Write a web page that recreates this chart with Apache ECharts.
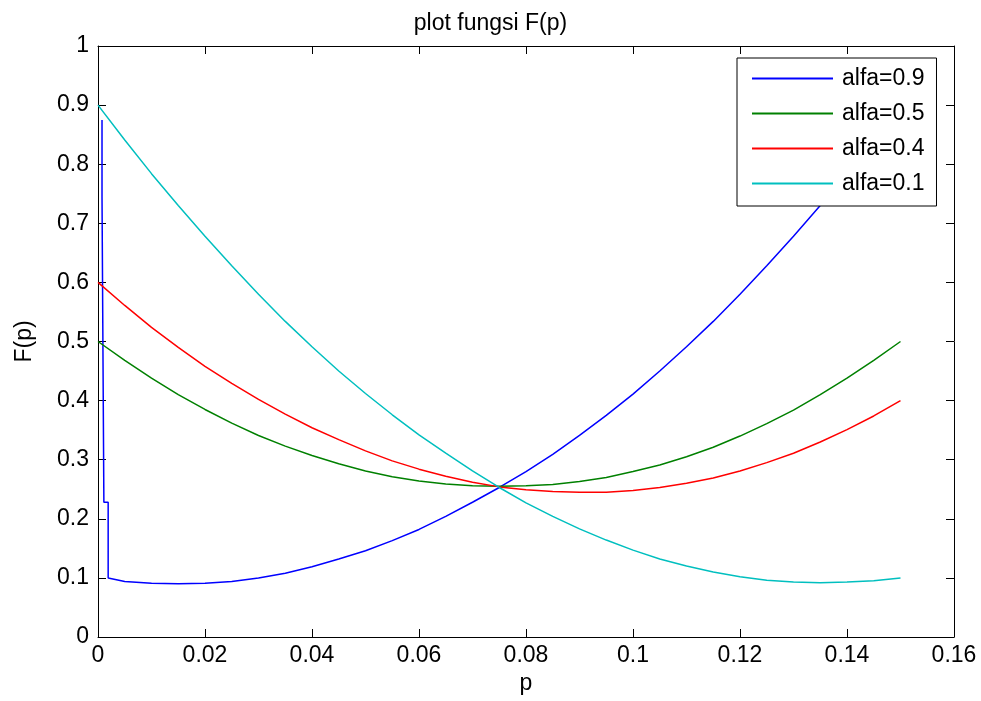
<!DOCTYPE html>
<html>
<head>
<meta charset="utf-8">
<script src="https://cdn.jsdelivr.net/npm/echarts@6/dist/echarts.min.js"></script>
<style>
html,body{margin:0;padding:0;background:#fff;}
#chart{width:981px;height:701px;}
</style>
</head>
<body>
<div id="chart"></div>
<script>
// p sample points (every 0.005 from 0 to 0.15)
const pValues = [0, 0.005, 0.01, 0.015, 0.02, 0.025, 0.03, 0.035, 0.04, 0.045,
  0.05, 0.055, 0.06, 0.065, 0.07, 0.075, 0.08, 0.085, 0.09, 0.095,
  0.1, 0.105, 0.11, 0.115, 0.12, 0.125, 0.13, 0.135, 0.14, 0.145, 0.15];

// read values F(p) for each alfa
const blueValues = [null, 0.094, 0.091, 0.090, 0.091, 0.094, 0.100, 0.108, 0.119, 0.132,
  0.146, 0.163, 0.182, 0.204, 0.228, 0.253, 0.280, 0.309, 0.341, 0.375,
  0.411, 0.450, 0.491, 0.534, 0.580, 0.628, 0.678, 0.730, 0.784, 0.841, 0.900];
const greenValues = [0.500, 0.468, 0.438, 0.410, 0.385, 0.362, 0.341, 0.323, 0.307, 0.293,
  0.281, 0.271, 0.264, 0.259, 0.256, 0.255, 0.256, 0.258, 0.263, 0.270,
  0.280, 0.291, 0.305, 0.321, 0.340, 0.361, 0.384, 0.410, 0.438, 0.468, 0.500];
const redValues = [0.600, 0.561, 0.524, 0.490, 0.458, 0.429, 0.402, 0.377, 0.354, 0.334,
  0.315, 0.298, 0.284, 0.272, 0.262, 0.254, 0.249, 0.246, 0.245, 0.245,
  0.248, 0.253, 0.260, 0.269, 0.281, 0.295, 0.311, 0.330, 0.351, 0.374, 0.400];
const cyanValues = [0.900, 0.841, 0.784, 0.730, 0.678, 0.628, 0.580, 0.534, 0.491, 0.450,
  0.412, 0.376, 0.342, 0.311, 0.281, 0.253, 0.227, 0.204, 0.183, 0.164,
  0.147, 0.132, 0.120, 0.110, 0.102, 0.096, 0.093, 0.092, 0.093, 0.095, 0.100];

// the steep start of the alfa=0.9 curve near p = 0
const blueSpikeP = [0.00075, 0.00075, 0.0011, 0.0011, 0.0019, 0.0019];
const blueSpikeF = [0.875, 0.745, 0.745, 0.228, 0.228, 0.100];

const seriesNames = ['alfa=0.9', 'alfa=0.5', 'alfa=0.4', 'alfa=0.1'];
const xTicks = [0, 0.02, 0.04, 0.06, 0.08, 0.1, 0.12, 0.14, 0.16];
const yTicks = [0, 0.1, 0.2, 0.3, 0.4, 0.5, 0.6, 0.7, 0.8, 0.9, 1];

function pairs(xs, ys) {
  const out = [];
  for (let i = 0; i < xs.length; i++) {
    if (ys[i] !== null && ys[i] !== undefined) out.push([xs[i], ys[i]]);
  }
  return out;
}
const blueData = pairs(blueSpikeP, blueSpikeF).concat(pairs(pValues, blueValues));

const FONT = 'Liberation Sans';
const FS = 23;
const axisColor = '#000';

function baseAxis(extra) {
  return Object.assign({
    type: 'value',
    axisLine: { show: true, onZero: false, lineStyle: { color: axisColor, width: 1 } },
    axisTick: { show: true, inside: true, length: 8, lineStyle: { color: axisColor, width: 1 } },
    splitLine: { show: false }
  }, extra);
}

const chart = echarts.init(document.getElementById('chart'), null, { renderer: 'canvas' });
chart.setOption({
  backgroundColor: '#fff',
  animation: false,
  textStyle: { fontFamily: FONT },
  title: {
    text: 'plot fungsi F(p)',
    left: 'center',
    top: 7,
    textStyle: { fontFamily: FONT, fontSize: FS, fontWeight: 'normal', color: '#000' }
  },
  grid: { left: 98, right: 27, top: 46, bottom: 64, containLabel: false },
  legend: {
    orient: 'vertical',
    left: 737,
    top: 58,
    data: seriesNames,
    icon: 'rect',
    itemWidth: 81,
    itemHeight: 2,
    itemGap: 12,
    padding: [9, 12, 11, 15],
    backgroundColor: '#fff',
    borderColor: '#000',
    borderWidth: 1,
    borderRadius: 0,
    textStyle: { fontFamily: FONT, fontSize: FS, color: '#000', lineHeight: 20, padding: [0, 0, 0, 4] }
  },
  xAxis: [
    baseAxis({
      position: 'bottom',
      min: 0, max: 0.16, interval: 0.02,
      name: 'p', nameLocation: 'middle', nameGap: 32,
      nameTextStyle: { fontFamily: FONT, fontSize: FS, color: '#000' },
      axisLabel: { show: true, margin: 7, fontFamily: FONT, fontSize: FS, color: '#000',
        formatter: function (v) { return String(xTicks.find(t => Math.abs(t - v) < 1e-9) ?? v); } }
    }),
    baseAxis({
      position: 'top',
      min: 0, max: 0.16, interval: 0.02,
      axisLabel: { show: false }
    })
  ],
  yAxis: [
    baseAxis({
      position: 'left',
      min: 0, max: 1, interval: 0.1,
      name: 'F(p)', nameLocation: 'middle', nameGap: 62,
      nameTextStyle: { fontFamily: FONT, fontSize: FS, color: '#000' },
      axisLabel: { show: true, margin: 9, fontFamily: FONT, fontSize: FS, color: '#000',
        formatter: function (v) { return String(yTicks.find(t => Math.abs(t - v) < 1e-9) ?? v); } }
    }),
    baseAxis({
      position: 'right',
      min: 0, max: 1, interval: 0.1,
      axisLabel: { show: false }
    })
  ],
  series: [
    { name: seriesNames[0], type: 'line', data: blueData, symbol: 'none', showSymbol: false,
      lineStyle: { color: '#0000ff', width: 1.5 }, itemStyle: { color: '#0000ff' } },
    { name: seriesNames[1], type: 'line', data: pairs(pValues, greenValues), symbol: 'none', showSymbol: false,
      lineStyle: { color: '#008000', width: 1.5 }, itemStyle: { color: '#008000' } },
    { name: seriesNames[2], type: 'line', data: pairs(pValues, redValues), symbol: 'none', showSymbol: false,
      lineStyle: { color: '#ff0000', width: 1.5 }, itemStyle: { color: '#ff0000' } },
    { name: seriesNames[3], type: 'line', data: pairs(pValues, cyanValues), symbol: 'none', showSymbol: false,
      lineStyle: { color: '#00bfbf', width: 1.5 }, itemStyle: { color: '#00bfbf' } }
  ]
});
</script>
</body>
</html>
